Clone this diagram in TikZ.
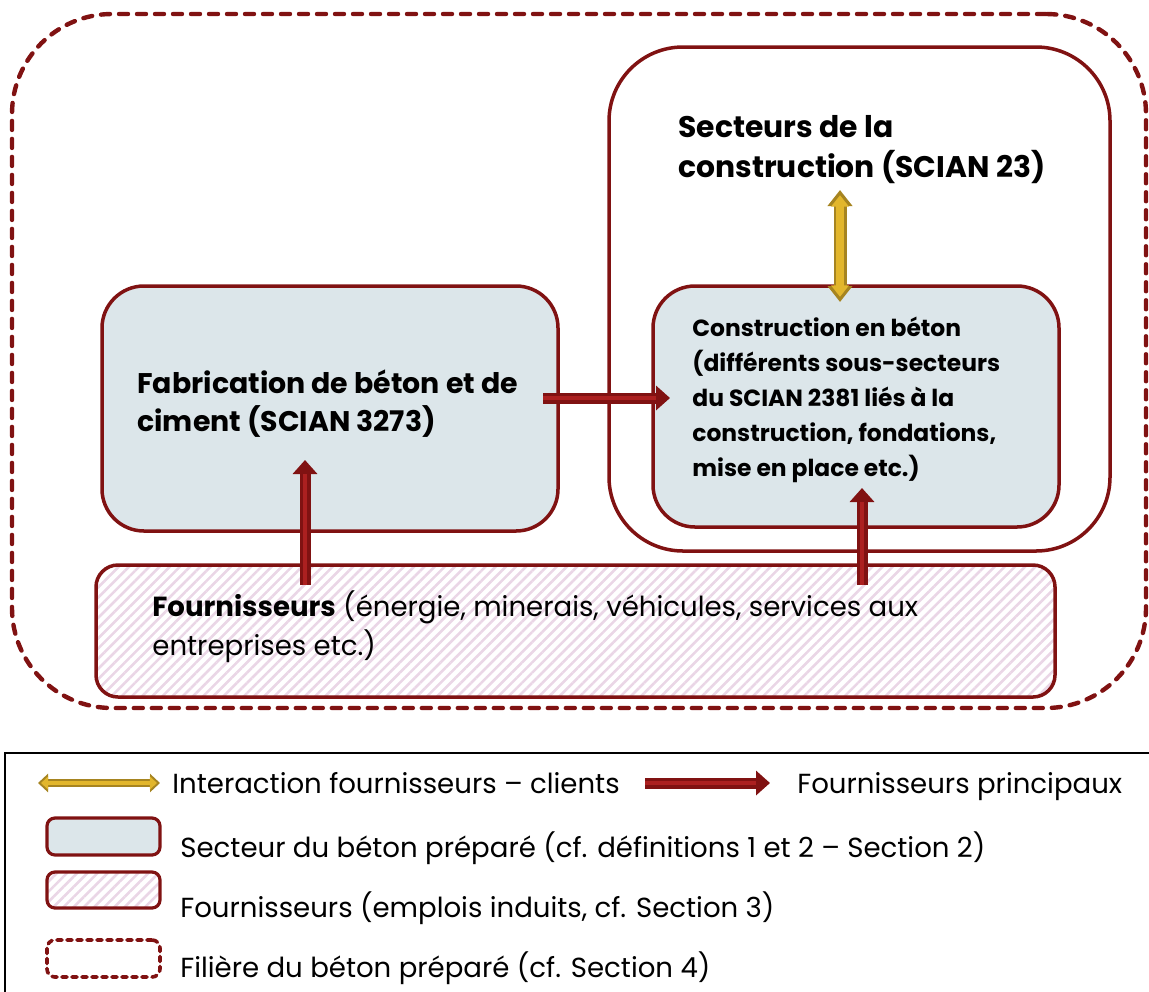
\documentclass[tikz,border=0pt]{standalone}
\usepackage{fontspec}
\setmainfont{Poppins}
\usetikzlibrary{arrows.meta,patterns.meta,fit}
\definecolor{bred}{RGB}{128,18,18}
\definecolor{bredlight}{RGB}{172,32,32}
\definecolor{bgold}{RGB}{226,182,44}
\definecolor{bgolddark}{RGB}{166,132,32}
\definecolor{bblue}{RGB}{220,230,234}
\definecolor{bpink}{RGB}{234,214,230}
\tikzset{
  secbox/.style={draw=bred,line width=1.75pt,fill=bblue,rounded corners=21pt,inner sep=0pt},
  fourbox/.style={draw=bred,line width=1.75pt,rounded corners=11pt,inner sep=0pt,
    pattern={Lines[angle=45,distance=3.6pt,line width=1.3pt]},pattern color=bpink},
  filbox/.style={draw=bred,line width=2.2pt,line cap=round,dash pattern=on 4.5pt off 4.5pt,inner sep=0pt},
  txt/.style={anchor=base west,align=left,inner sep=0pt},
  lgtxt/.style={txt,font=\fontsize{13.8}{16}\selectfont},
  redtip/.style={-{Triangle[width=12pt,length=7pt]}},
}
\newcommand{\redarrow}[2]{%
  \draw[bred,line width=5.5pt,redtip] (#1) -- (#2);
  \draw[bredlight,line width=1.6pt,shorten >=7pt] (#1) -- (#2);}
\newcommand{\goldarrow}[5]{% from, to, shaft, head width, head length
  \draw[bgolddark,line width=#3,{Triangle[width=#4,length=#5]}-{Triangle[width=#4,length=#5]}] (#1) -- (#2);
  \draw[bgold,line width=#3*0.55,shorten <=#3*0.4,shorten >=#3*0.4,
    {Triangle[width=#4*0.72,length=#5*0.72]}-{Triangle[width=#4*0.72,length=#5*0.72]}] (#1) -- (#2);}
\begin{document}
\begin{tikzpicture}[x=0.5pt,y=-0.5pt]
  \useasboundingbox (0,0) rectangle (1149,991);
  % filiere
  \node[filbox,rounded corners=50pt,fit={(12,14) (1146,708)}] (filiere) {};
  \node[draw=bred,line width=1.75pt,rounded corners=37pt,inner sep=0pt,fit={(609,47) (1110,551)}] (secteurs) {};
  \node[txt,font=\bfseries\fontsize{14.9}{20}\selectfont] (sectxt) at (678,177)
    {Secteurs de la\\construction (SCIAN 23)};
  % boxes
  \node[secbox,fit={(102,286) (558,531)}] (fab) {};
  \node[secbox,fit={(653,286) (1059,527)}] (constr) {};
  \node[fourbox,fit={(96,565) (1055,697)}] (four) {};
  \node[txt,font=\bfseries\fontsize{14.2}{19}\selectfont] (fabtxt) at (137,431)
    {Fabrication de béton et de\\ciment (SCIAN 3273)};
  \node[txt,font=\bfseries\fontsize{11.7}{17.5}\selectfont] (constrtxt) at (692,476)
    {Construction en béton\\(différents sous-secteurs\\du SCIAN 2381 liés à la\\construction, fondations,\\mise en place etc.)};
  \node[txt,font=\fontsize{13.8}{19.5}\selectfont] (fourtxt) at (152,655)
    {\textbf{Fournisseurs} (énergie, minerais, véhicules, services aux\\entreprises etc.)};
  % arrows
  \coordinate (fabR) at (543,398);
  \coordinate (constrL) at (670,398);
  \coordinate (fourA) at (305,585);
  \coordinate (fabB) at (305,460);
  \coordinate (fourB) at (862,585);
  \coordinate (constrB) at (862,488);
  \coordinate (constrT) at (840,302);
  \coordinate (secB) at (840,190);
  \redarrow{fabR}{constrL}
  \redarrow{fourA}{fabB}
  \redarrow{fourB}{constrB}
  \goldarrow{constrT}{secB}{6.5pt}{12pt}{8pt}
  % legend
  \node[draw=black,line width=1.3pt,inner sep=0pt,fit={(5,753) (1170,1010)}] (legend) {};
  \coordinate (lgA) at (38,783);
  \coordinate (lgB) at (160,783);
  \goldarrow{lgA}{lgB}{3.8pt}{9pt}{5pt}
  \node[lgtxt] (lgtxta) at (172,793) {Interaction fournisseurs – clients};
  \coordinate (lrA) at (645,783);
  \coordinate (lrB) at (770,783);
  \redarrow{lrA}{lrB}
  \node[lgtxt] (lgtxtb) at (797,793) {Fournisseurs principaux};
  \node[secbox,rounded corners=4pt,line width=1.6pt,fit={(47,818) (160,855)}] (lgsec) {};
  \node[lgtxt] (lgtxtc) at (180,857) {Secteur du béton préparé (cf. définitions 1 et 2 – Section 2)};
  \node[fourbox,rounded corners=4pt,line width=1.6pt,fit={(47,872) (160,908)}] (lgfour) {};
  \node[lgtxt] (lgtxtd) at (180,917) {Fournisseurs (emplois induits, cf. Section 3)};
  \node[filbox,rounded corners=4pt,line width=1.8pt,dash pattern=on 2.5pt off 2.5pt,fit={(47,940) (160,977)}] (lgfil) {};
  \node[lgtxt] (lgtxte) at (180,977) {Filière du béton préparé (cf. Section 4)};
\end{tikzpicture}
\end{document}
